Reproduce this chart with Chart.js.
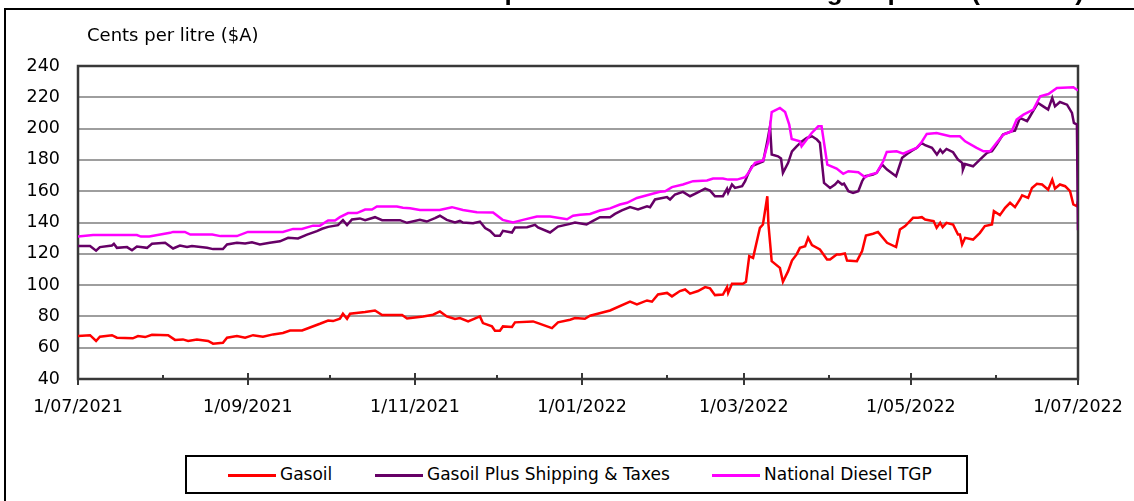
<!DOCTYPE html>
<html>
<head>
<meta charset="utf-8">
<script src="https://cdn.jsdelivr.net/npm/chart.js@4.4.1/dist/chart.umd.min.js"></script>
<style>
  body { margin:0; background:#fff; width:1134px; height:501px; overflow:hidden; position:relative; font-family:"DejaVu Sans", sans-serif; }
  #frame { position:absolute; left:4px; top:8px; width:1200px; height:600px; border:2px solid #000; }
  #chart { position:absolute; left:0; top:0; }
  #legend { position:absolute; left:185px; top:455px; width:783px; height:39px; border:2px solid #000; box-sizing:border-box; background:#fff; }
  .item { position:absolute; top:0; height:35px; line-height:35px; font-size:17px; color:#000; white-space:nowrap; }
  .swatch { display:inline-block; width:48px; height:3px; vertical-align:middle; margin-right:4px; }
</style>
</head>
<body>
<div id="frame"></div>
<canvas id="chart" width="1134" height="501"></canvas>
<div id="legend"></div>
<script>
// days counted from 1/07/2021
const monthDays = [0,31,62,92,123,153,184,215,243,274,304,335,365];
const labelDays = [0,62,123,184,243,304,365];
const tickLabels = ['1/07/2021','1/09/2021','1/11/2021','1/01/2022','1/03/2022','1/05/2022','1/07/2022'];

const seriesNames = ['Gasoil','Gasoil Plus Shipping & Taxes','National Diesel TGP'];
const seriesColors = ['#ff0000','#660066','#ff00ff'];

const gasoilDays = [0,4.4,6.6,8,12.4,14.2,20,21.9,24.5,27,32.9,35.4,38.3,40.2,43.4,47.5,49.3,52.9,54.4,58,
  61,63.9,67.5,71.2,74.8,77.4,81.8,85.4,88.3,91.3,93.1,95.6,96.7,98.2,99.3,104.8,108.4,111,118.3,120.1,
  126,129.6,132.1,134.6,137.6,139.4,142.4,146.7,147.8,151.1,152.2,154,155.1,158.4,159.5,166.1,167.9,173,175.2,179.6,
  181.4,185,186.9,194.2,201.5,204,207.7,209.5,211.7,215,216.8,219.7,221.6,223.4,226.3,228.9,230.7,232.5,235.4,236.9,
  237.3,238.7,242.7,243.8,245,246.4,248.9,250,251.6,252,253.2,256.2,257.3,259.2,260.6,262.3,263.5,265.4,266.5,267.9,
  270.8,273.4,274.5,276.9,278.1,279.9,280.7,284.3,286.2,287.6,290.2,292,295.3,298.6,300,301.9,304.8,306.6,308,309.2,
  311,312.3,313.4,314.7,315.6,317,319.4,321.2,321.9,322.7,323.8,326.7,329.2,331,333.6,334.3,336.5,338.4,340.2,342,
  343.8,344.6,346.8,348.2,350,351.9,354.1,355.6,356.6,358.4,360.3,362.1,363.3,364.6,365];
const gasoilValues = [67.4,68,64.3,67,68,66.4,66,67.4,66.8,68.3,68,65,65.3,64.3,65.3,64.3,62.6,63.2,66.4,67.4,
  66.4,68,67,68.5,69.4,71,71,73.4,75.3,77.4,77,78.5,81.7,78.5,81.7,82.8,83.8,80.9,80.9,78.7,
  80,81.1,83.2,80,78.3,78.9,76.8,80,75.7,73.6,70.9,70.9,73.6,73.2,76.2,76.8,75.7,72.5,76.2,77.9,
  78.9,78.5,80.4,83.8,89.4,87.7,90.2,89.4,94,95,92.8,96.2,97.2,94.5,96.2,98.7,97.9,93.6,94,98.7,
  95,100.9,100.9,102.1,118.5,117.4,136.6,138.7,156.8,139.1,115.3,111,102.1,108.9,115.7,119.6,123.8,124.9,130.2,125.5,
  122.8,116.4,116.4,119.6,119.6,120.2,115.7,115.3,121.7,131.7,132.8,134,127,124.3,135.5,137.7,143,143,143.4,141.9,
  141.3,140.9,136.6,139.8,137,139.8,138.7,132.3,132.3,125.9,130.2,129.1,133.4,137.7,138.7,147.2,144.7,149.4,152.6,149.8,
  154.7,157.4,155.7,162.1,164.7,164.3,161,167.4,161.7,164.3,163.2,160,151.5,150.4,153.6];

const plusDays = [0,4.4,6.6,8,12.4,13.1,14.2,17.9,19.7,21.5,25.2,27,31.8,34.7,37.2,39.8,41.6,47.1,49.3,52.9,
  54.4,58,61,63.5,66.4,70,73.7,76.7,80.3,83.6,87.2,89.1,91.3,94.9,96.7,98.2,100,102.9,104.8,108.4,
  111,117.5,120.1,124.8,127.3,130.3,132.1,134.6,137.6,139.4,140.5,144.2,146.7,148.6,150.4,152.2,154,155.1,158.4,159.5,
  163.9,166.8,167.9,172.3,175.2,179.6,181.4,185.6,187.8,190.5,194.2,196,198.5,201.5,204.4,207.7,208.8,210.6,215,216.1,
  217.9,220.8,223.4,225.9,228.9,230.7,232.5,235.4,236.9,237.3,238.7,239.8,242.4,243.5,244.6,246,250.1,251.6,252.6,253.2,
  255.5,256.6,257.3,259.2,260.6,262.3,264.3,266,267.9,269.7,270.8,272.3,274.5,276.3,277.4,278.9,279.6,281.2,282.9,284.8,
  286.2,287.3,290.2,291.5,293.5,295.3,298.6,300.8,302.6,304.4,306.2,307.9,309.2,311.7,313.5,314.7,315.6,317,319.4,321.2,
  322.7,323,323.8,326.7,329.2,331.8,333.6,335.3,337.6,340.8,342,343.8,346.4,347.5,348.6,350.4,352.3,354.1,355.6,356.6,
  358.4,361,362.8,363.5,364.6,365];
const plusValues = [125,125,122,124.3,125.3,126.4,123.8,124.3,122.3,124.7,123.8,126.4,127,123.4,125.3,124.3,125,123.8,123,123,
  126,127,126.6,127.4,126,127,128,130.2,129.8,132.3,134.5,136,137.2,138.3,141.5,138.3,141.9,142.6,141.5,143.4,
  141.5,141.5,139.8,141.7,140.6,142.8,144.3,141.7,140,141,140,139.6,140.6,136.4,134.7,131.5,131.5,134.7,133.6,136.8,
  137,138.5,136.8,133.6,137.4,139.1,140,138.7,140.9,143.4,143.4,145.5,147.7,149.8,148.3,150.4,149.8,154.7,156.2,154.7,
  157.9,159.6,156.8,159,161.7,160.4,156.8,156.8,161.5,159,164.3,162.1,163.2,166.4,171.1,176,179.1,191.9,201.5,183.4,
  182.3,180.9,171.7,178.1,185.5,188.7,191.9,194,195.1,193,190.9,165.3,162.1,164.3,166.4,164.3,164.9,160,158.9,160,
  166.4,169.6,170.6,171.7,177,173.8,169.6,181.3,183.8,185.9,187.7,190.9,189.4,187.7,183.4,186.6,184.5,187,184.9,180.2,
  178.1,173.8,177.4,175.9,180.2,184.5,185.5,189.8,196.2,198.3,198.7,206.8,204.7,207.9,211.1,216.4,214.2,212.1,219.6,214.2,
  217,215.3,210,203.6,202.6,135];

const tgpDays = [0,5.5,21.5,23,26,33.6,34.7,39,41,49,52,58,62,74.8,78.5,81.7,85.8,88.3,91.3,93.8,
  95.6,98.6,101.8,104.8,107.3,109.1,116.4,118.6,121.2,124.8,132,136.5,140.5,145.6,151.5,155,158.8,162.4,167.5,172.3,
  178.5,180.7,183.2,186.9,190.5,194.2,197.8,200.4,204,207.7,212.4,214.3,216.8,220.8,224.5,229.6,231.8,235.4,237.3,240.5,
  243.5,244.7,247.1,250.1,252,253.2,256.2,258.1,259.6,260.5,263.5,264.1,266,267.8,270.2,271.4,273.5,276.9,279.3,281.2,
  284.8,287.3,289.1,291.5,293.9,295.2,298.8,301.2,303.7,306.1,307.9,309.8,313.4,318.3,321.9,323.8,328,330.5,332.9,335.3,
  337.8,340.8,342.6,345.1,348.7,351.2,354.2,357.3,363.3,365];
const tgpValues = [131,132,132,131,131,133.4,134,134,132.3,132.3,131.3,131.3,134,134,135.9,135.9,138,138,141.3,141.3,
  143.4,146,146,148.3,148.3,150.2,150.2,149.4,149.1,148,148,149.8,148,146.6,146.4,141.7,140,141.7,143.8,143.8,
  142.1,144.3,145,145.5,147.7,149,151.5,152.6,155.7,157.4,159.6,160,162.6,164.3,166.4,166.8,168.1,168.1,167.4,167.4,
  168.9,171.7,178.1,179.6,191.9,210.6,213.2,210.6,202.6,193.4,191.9,188.7,193,197.2,201.5,201.5,177,174.5,171.1,172.8,
  172.1,168.9,170.6,171.7,179.1,185.1,185.5,184,185.9,187.7,191.3,196.6,197.2,195.1,195.1,191.9,187.7,185.5,185.5,190.9,
  196.2,198.3,205.7,208.9,212.1,220.6,222.1,226,226.4,224.3];

const pts = (days, vals) => days.map((d, i) => ({x: d, y: vals[i]}));

// legend box
const legendPos = [41, 188, 525];
const legend = document.getElementById('legend');
seriesNames.forEach((name, i) => {
  const it = document.createElement('div');
  it.className = 'item';
  it.style.left = legendPos[i] + 'px';
  it.innerHTML = '<span class="swatch" style="background:' + seriesColors[i] + '"></span>';
  it.appendChild(document.createTextNode(name));
  legend.appendChild(it);
});

const framePlugin = {
  id: 'frame',
  beforeDatasetsDraw(chart) {
    const {ctx, chartArea: a, scales} = chart;
    ctx.save();
    ctx.strokeStyle = '#383838';
    ctx.lineWidth = 2.5;
    ctx.strokeRect(a.left, a.top, a.right - a.left, a.bottom - a.top);
    ctx.lineWidth = 2;
    monthDays.forEach(d => {
      const px = Math.round(scales.x.getPixelForValue(d));
      const major = labelDays.includes(d);
      ctx.beginPath();
      ctx.moveTo(px, a.bottom - (major ? 6 : 4));
      ctx.lineTo(px, a.bottom + (major ? 6 : 0));
      ctx.stroke();
    });
    ctx.restore();
  },
  afterDraw(chart) {
    const ctx = chart.ctx;
    ctx.save();
    ctx.fillStyle = '#000';
    ctx.font = '18px "DejaVu Sans"';
    ctx.textBaseline = 'middle';
    ctx.textAlign = 'left';
    ctx.fillText('Cents per litre ($A)', 87, 36);
    ctx.font = 'bold 26px "Liberation Sans"';
    ctx.textBaseline = 'alphabetic';
    ctx.textAlign = 'right';
    ctx.fillText('Comparison of diesel terminal gate prices (2021-22)', 1084, 0);
    ctx.restore();
  }
};

new Chart(document.getElementById('chart'), {
  type: 'line',
  data: {
    datasets: [
      {label: seriesNames[2], data: pts(tgpDays, tgpValues), borderColor: seriesColors[2]},
      {label: seriesNames[1], data: pts(plusDays, plusValues), borderColor: seriesColors[1]},
      {label: seriesNames[0], data: pts(gasoilDays, gasoilValues), borderColor: seriesColors[0]}
    ]
  },
  options: {
    responsive: false,
    animation: false,
    layout: {padding: {left: 0, right: 56, top: 66, bottom: 82}},
    elements: {point: {radius: 0}, line: {borderWidth: 2.5, tension: 0}},
    plugins: {legend: {display: false}, tooltip: {enabled: false}},
    scales: {
      x: {
        type: 'linear', min: 0, max: 365,
        afterBuildTicks: s => { s.ticks = labelDays.map(v => ({value: v})); },
        afterFit: s => { s.height = 40; s.paddingLeft = 0; s.paddingRight = 0; },
        grid: {display: false, drawTicks: false},
        border: {display: false},
        ticks: {
          autoSkip: false, maxRotation: 0, padding: 18, color: '#000',
          font: {family: 'DejaVu Sans', size: 17.5},
          callback: v => tickLabels[labelDays.indexOf(v)]
        }
      },
      y: {
        min: 40, max: 240,
        afterFit: s => { s.width = 78; },
        grid: {
          drawTicks: false, lineWidth: 2,
          color: c => (c.tick && (c.tick.value === 40 || c.tick.value === 240)) ? 'rgba(0,0,0,0)' : '#9e9e9e'
        },
        border: {display: false},
        ticks: {stepSize: 20, padding: 18, color: '#000', font: {family: 'DejaVu Sans', size: 17.5}}
      }
    }
  },
  plugins: [framePlugin]
});
</script>
</body>
</html>
